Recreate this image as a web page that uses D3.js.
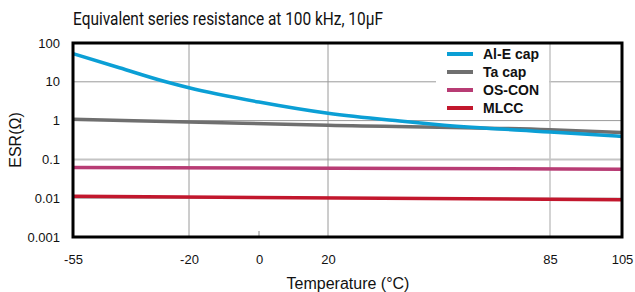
<!DOCTYPE html>
<html lang="en">
<head>
<meta charset="utf-8">
<title>ESR vs temperature</title>
<style>
  body { margin: 0; background: #fff; }
  svg text { font-family: "Liberation Sans", Arial, Helvetica, sans-serif; fill: #111; }
</style>
</head>
<body>
<div id="chart"></div>
<script src="https://d3js.org/d3.v7.min.js"></script>
<script>
// data
var xTicks = [-55, -20, 0, 20, 85, 105];
var yTicks = [100, 10, 1, 0.1, 0.01, 0.001];
var yTickLabels = ["100", "10", "1", "0.1", "0.01", "0.001"];

var alTemp = [-55, -41, -27, -20, 0, 20, 41, 54, 85, 105];
var alEsr = [53, 23, 10, 7.0, 3.0, 1.54, 0.97, 0.76, 0.51, 0.39];
var taTemp = [-55, -20, 20, 85, 105];
var taEsr = [1.08, 0.92, 0.76, 0.58, 0.49];
var osTemp = [-55, 105];
var osEsr = [0.062, 0.056];
var mlTemp = [-55, 105];
var mlEsr = [0.0112, 0.0091];

var seriesNames = ["Al-E cap", "Ta cap", "OS-CON", "MLCC"];
var seriesColors = ["#0b9fd5", "#6f6f6f", "#b83c74", "#c2172d"];

var w = 635, h = 292;
var pLeft = 73, pRight = 622, pTop = 43, pBottom = 237;

var svg = d3.select("#chart").append("svg")
  .attr("width", w).attr("height", h);

// the picture's x axis is slightly uneven, so a piecewise scale
var x = d3.scaleLinear()
  .domain([-55, -20, 0, 20, 85, 105])
  .range([pLeft, 189, 259, 328, 550, pRight]);
var y = d3.scaleLog().domain([0.001, 100]).range([pBottom, pTop]);

svg.append("text")
  .attr("x", pLeft).attr("y", 25)
  .attr("font-size", 18)
  .style("font-family", "Roboto, 'Liberation Sans', sans-serif")
  .attr("textLength", 310).attr("lengthAdjust", "spacingAndGlyphs")
  .text("Equivalent series resistance at 100 kHz, 10\u00b5F");

// gridlines
var grid = svg.append("g");
grid.selectAll("line.h").data([10, 1, 0.01]).enter().append("line")
  .attr("x1", pLeft).attr("x2", pRight)
  .attr("y1", d => y(d)).attr("y2", d => y(d))
  .attr("stroke", "#9a9a9a").attr("stroke-width", 1);
grid.append("line")
  .attr("x1", pLeft).attr("x2", pRight)
  .attr("y1", y(0.1)).attr("y2", y(0.1))
  .attr("stroke", "#c4c4c4").attr("stroke-width", 2);
grid.selectAll("line.v").data([-20, 20]).enter().append("line")
  .attr("x1", d => x(d)).attr("x2", d => x(d))
  .attr("y1", pTop).attr("y2", pBottom)
  .attr("stroke", "#9a9a9a").attr("stroke-width", 1);
grid.append("line")
  .attr("x1", x(85)).attr("x2", x(85))
  .attr("y1", pTop).attr("y2", pBottom)
  .attr("stroke", "#c4c4c4").attr("stroke-width", 1.5);
grid.append("line")
  .attr("x1", x(0)).attr("x2", x(0))
  .attr("y1", pBottom - 6).attr("y2", pBottom)
  .attr("stroke", "#c4c4c4").attr("stroke-width", 2);

// legend background covers the gridlines
svg.append("rect")
  .attr("x", 436).attr("y", pTop).attr("width", 113).attr("height", 74)
  .attr("fill", "#fff");

// series
var line = d3.line()
  .x(d => x(d[0])).y(d => y(d[1]))
  .curve(d3.curveMonotoneX);
var series = [
  d3.zip(alTemp, alEsr),
  d3.zip(taTemp, taEsr),
  d3.zip(osTemp, osEsr),
  d3.zip(mlTemp, mlEsr)
];
// draw bottom-most first so Al-E sits on top
[3, 2, 1, 0].forEach(function(i) {
  svg.append("path")
    .datum(series[i])
    .attr("d", line)
    .attr("fill", "none")
    .attr("stroke", seriesColors[i])
    .attr("stroke-width", 3.5);
});

// frame
svg.append("rect")
  .attr("x", pLeft).attr("y", pTop)
  .attr("width", pRight - pLeft).attr("height", pBottom - pTop)
  .attr("fill", "none").attr("stroke", "#000").attr("stroke-width", 3);

// axes (labels only, the frame gives the lines)
var yAxis = d3.axisLeft(y).tickValues(yTicks)
  .tickFormat((d, i) => yTickLabels[i]).tickSize(0).tickPadding(13);
svg.append("g").attr("transform", "translate(" + pLeft + ",0)").call(yAxis)
  .call(g => g.select(".domain").remove())
  .selectAll("text").attr("font-size", 13).attr("fill", "#111")
  .style("font-family", "'Liberation Sans', Arial, sans-serif");

var xAxis = d3.axisBottom(x).tickValues(xTicks)
  .tickFormat(d => String(d)).tickSize(0).tickPadding(18);
svg.append("g").attr("transform", "translate(0," + pBottom + ")").call(xAxis)
  .call(g => g.select(".domain").remove())
  .selectAll("text").attr("font-size", 13).attr("fill", "#111")
  .style("font-family", "'Liberation Sans', Arial, sans-serif");

svg.append("text")
  .attr("x", 348).attr("y", 289)
  .attr("text-anchor", "middle").attr("font-size", 16)
  .text("Temperature (\u00b0C)");

svg.append("text")
  .attr("transform", "translate(21,140) rotate(-90)")
  .attr("text-anchor", "middle").attr("font-size", 16)
  .text("ESR(\u03a9)");

// legend
var leg = svg.append("g");
seriesNames.forEach(function(name, i) {
  var ly = 54 + i * 18;
  leg.append("line")
    .attr("x1", 447).attr("x2", 473).attr("y1", ly).attr("y2", ly)
    .attr("stroke", seriesColors[i]).attr("stroke-width", 4);
  leg.append("text")
    .attr("x", 483).attr("y", ly + 5)
    .attr("font-size", 14).attr("font-weight", "bold")
    .text(name);
});
</script>
</body>
</html>
